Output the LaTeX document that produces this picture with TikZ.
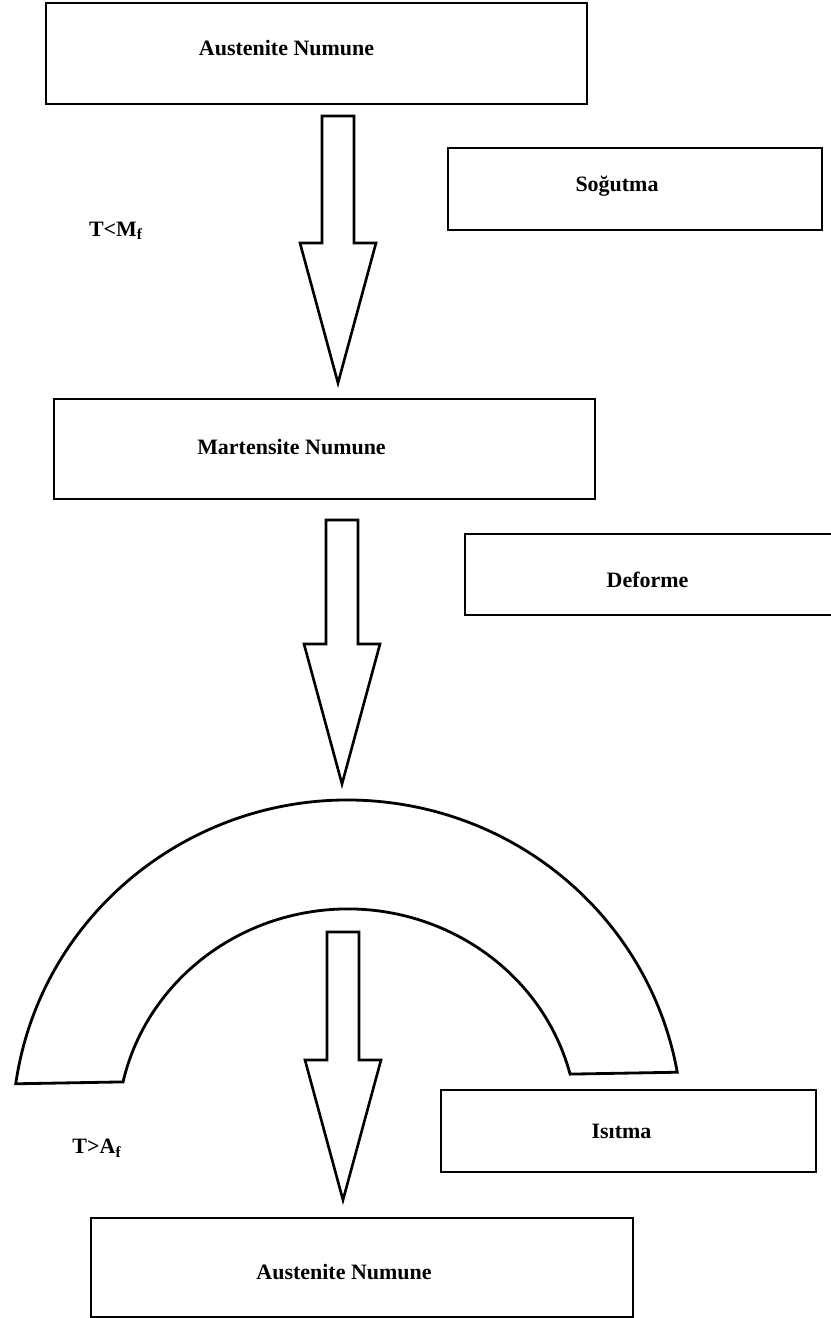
\documentclass[tikz,border=0pt]{standalone}
\usepackage{fontspec}
\setmainfont{Liberation Serif}
\usetikzlibrary{calc}

% block arrow from shaft top #1 to tip #2
\newcommand{\blockarrow}[2]{%
  \draw[blockarr] ($(#1)+(-16,0)$) -- ($(#1)+(16,0)$) -- ($(#2)+(16,140)$)
    -- ($(#2)+(38,140)$) -- (#2) -- ($(#2)+(-38,140)$) -- ($(#2)+(-16,140)$) -- cycle;}

\begin{document}
\begin{tikzpicture}[x=0.02cm, y=0.02cm,
  mainbox/.style={draw, line width=1.6pt, inner sep=0pt},
  sidebox/.style={draw, line width=1.1pt, inner sep=0pt},
  lbl/.style={font=\fontsize{12.5}{15}\selectfont\bfseries},
  blockarr/.style={line width=1.5pt, line join=miter}]
  \useasboundingbox (0,0) rectangle (831,-1318);
  % Sample boxes
  \node[mainbox, minimum width=541*0.02cm, minimum height=101*0.02cm] (aus1) at (316.5,-53.5) {};
  \node[mainbox, minimum width=541*0.02cm, minimum height=100*0.02cm] (mart) at (324.5,-449) {};
  \node[mainbox, minimum width=542*0.02cm, minimum height=99*0.02cm] (aus2) at (362,-1267.5) {};
  \node[lbl] (aus1l) at ($(aus1)+(-30,5)$) {Austenite Numune};
  \node[lbl] (martl) at ($(mart)+(-33,2)$) {Martensite Numune};
  \node[lbl] (aus2l) at ($(aus2)+(-18,-4)$) {Austenite Numune};
  % Step boxes
  \node[sidebox, minimum width=374*0.02cm, minimum height=82*0.02cm] (sog) at (635,-189) {};
  \node[sidebox, minimum width=369*0.02cm, minimum height=81*0.02cm] (def) at (649.5,-574.5) {};
  \node[sidebox, minimum width=375*0.02cm, minimum height=82*0.02cm] (isi) at (628.5,-1131) {};
  \node[lbl] (sogl) at ($(sog)+(-18,3)$) {Soğutma};
  \node[lbl] (defl) at ($(def)+(-2,-5)$) {Deforme};
  \node[lbl] (isil) at ($(isi)+(-7,0)$) {Isıtma};
  % Temperatures
  \node[lbl] (tmf) at (116,-231) {T<M\textsubscript{f}};
  \node[lbl] (taf) at (97,-1148) {T>A\textsubscript{f}};
  % Arrows
  \coordinate (a1s) at (338,-116);
  \coordinate (a1e) at (338,-383);
  \coordinate (a2s) at (342,-520);
  \coordinate (a2e) at (342,-784);
  \coordinate (a3s) at (343,-932);
  \coordinate (a3e) at (343,-1200);
  \blockarrow{a1s}{a1e}
  \blockarrow{a2s}{a2e}
  % Deformed sample
  \begin{scope}[rotate around={1:(346.5,-1078)}]
    \draw[line width=1.6pt] (15.7,-1078)
      arc[start angle=170.93, end angle=9.07, x radius=335, y radius=330]
      -- (570.1,-1078)
      arc[start angle=13.6, end angle=166.4, x radius=230, y radius=221]
      -- cycle;
  \end{scope}
  \blockarrow{a3s}{a3e}
\end{tikzpicture}
\end{document}
